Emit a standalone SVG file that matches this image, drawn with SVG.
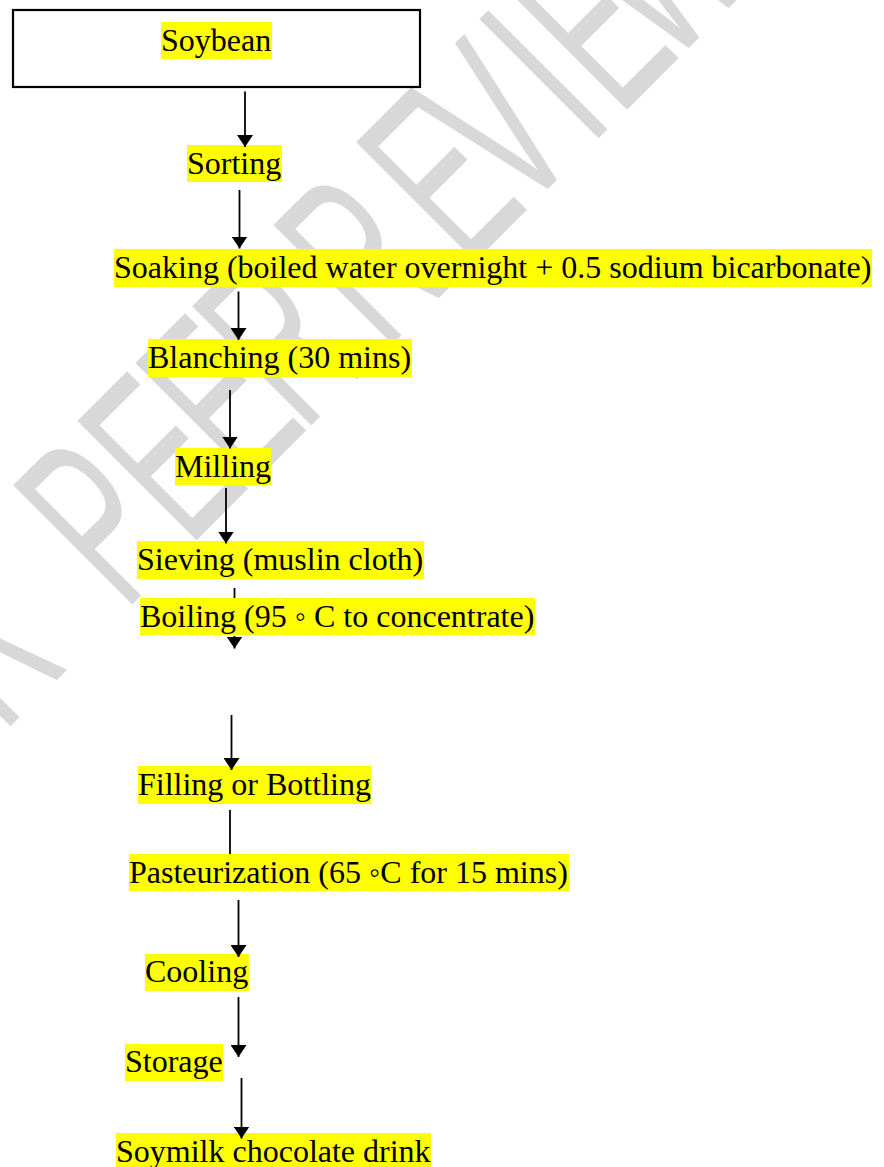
<svg xmlns="http://www.w3.org/2000/svg" width="884" height="1167" viewBox="0 0 884 1167">
  <style>
    .hl { fill: #ffff00; }
    .t { font-family: "Liberation Serif", "Times New Roman", serif; font-size: 32px; fill: #000; }
    .wm { font-family: "Liberation Sans", Arial, sans-serif; font-size: 245px; fill: #d8d8d8; }
    .c { stroke: #000; stroke-width: 1.8; fill: none; }
  </style>
  <defs>
    <marker id="ah" viewBox="0 0 12 16" refX="12" refY="8" markerWidth="12" markerHeight="16" markerUnits="userSpaceOnUse" orient="auto">
      <path d="M0,0 L12,8 L0,16 z" fill="#000"/>
    </marker>
  </defs>
  <rect width="884" height="1167" fill="#fff"/>

  <g id="watermark">
    <text class="wm" transform="rotate(-45) scale(0.55,1)" x="-940 -800 -627 -462 -313 -167 -60 42 255 391 569 645 773" y="521">R PEER REVIEW</text>
  </g>

  <g id="soybean">
    <rect x="13" y="10" width="407" height="77" fill="#fff" stroke="#000" stroke-width="2.2"/>
    <rect class="hl" x="161" y="22" width="111" height="37"/>
    <text class="t" x="161" y="51">Soybean</text>
  </g>
  <g id="sorting">
    <rect class="hl" x="187" y="145" width="95" height="37"/>
    <text class="t" x="187" y="174">Sorting</text>
  </g>
  <g id="soaking">
    <rect class="hl" x="114" y="249" width="758" height="38"/>
    <text class="t" x="114" y="278">Soaking (boiled water overnight + 0.5 sodium bicarbonate)</text>
  </g>
  <g id="blanching">
    <rect class="hl" x="148" y="339" width="264" height="38"/>
    <text class="t" x="148" y="368">Blanching (30 mins)</text>
  </g>
  <g id="milling">
    <rect class="hl" x="175" y="448" width="96" height="37"/>
    <text class="t" x="175" y="477">Milling</text>
  </g>
  <g id="sieving">
    <rect class="hl" x="137" y="541" width="287" height="38"/>
    <text class="t" x="137" y="570">Sieving (muslin cloth)</text>
  </g>
  <g id="boiling">
    <rect class="hl" x="140" y="598" width="395" height="37"/>
    <text class="t" x="140" y="627">Boiling (95 ◦ C to concentrate)</text>
  </g>
  <g id="filling">
    <rect class="hl" x="138" y="766" width="233" height="38"/>
    <text class="t" x="138" y="795">Filling or Bottling</text>
  </g>
  <g id="pasteurization">
    <rect class="hl" x="129" y="854" width="440" height="37"/>
    <text class="t" x="129" y="883">Pasteurization (65 ◦C for 15 mins)</text>
  </g>
  <g id="cooling">
    <rect class="hl" x="145" y="954" width="104" height="37"/>
    <text class="t" x="145" y="982">Cooling</text>
  </g>
  <g id="storage">
    <rect class="hl" x="125" y="1044" width="98" height="37"/>
    <text class="t" x="125" y="1072">Storage</text>
  </g>
  <g id="soymilk">
    <rect class="hl" x="116" y="1133" width="315" height="37"/>
    <text class="t" x="116" y="1162">Soymilk chocolate drink</text>
  </g>

  <g id="connectors">
    <path class="c" d="M245,91.5 V147" marker-end="url(#ah)"/>
    <path class="c" d="M239.5,190 V248.5" marker-end="url(#ah)"/>
    <path class="c" d="M238.5,291.5 V340" marker-end="url(#ah)"/>
    <path class="c" d="M230,390 V448.5" marker-end="url(#ah)"/>
    <path class="c" d="M226,488 V543.5" marker-end="url(#ah)"/>
    <path class="c" d="M234.5,588 V598 M234.5,636 V648.5" marker-end="url(#ah)"/>
    <path class="c" d="M231.5,715 V770" marker-end="url(#ah)"/>
    <path class="c" d="M230,810 V854"/>
    <path class="c" d="M238.5,900 V957" marker-end="url(#ah)"/>
    <path class="c" d="M238.5,997 V1057" marker-end="url(#ah)"/>
    <path class="c" d="M241.5,1078 V1138.5" marker-end="url(#ah)"/>
  </g>
</svg>
